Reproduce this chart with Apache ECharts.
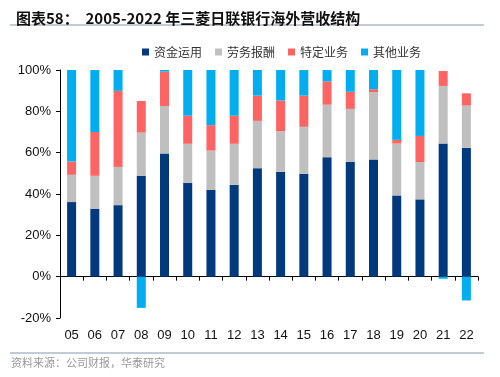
<!DOCTYPE html>
<html>
<head>
<meta charset="utf-8">
<script src="https://cdn.jsdelivr.net/npm/echarts@6/dist/echarts.min.js"></script>
<style>
  html, body { margin: 0; padding: 0; background: #fff; }
  #main { width: 500px; height: 377px; }
</style>
</head>
<body>
<div id="main"></div>
<script>
// 年份
var years = ['05','06','07','08','09','10','11','12','13','14','15','16','17','18','19','20','21','22'];
// 各业务占比 (%)
var ziJin   = [36.1, 32.9, 34.6, 48.8, 59.6, 45.4, 42.0, 44.4, 52.5, 50.7, 49.8, 57.8, 55.6, 56.7, 39.3, 37.4, 64.4, 62.3];
var laoWu   = [13.2, 15.9, 18.5, 20.9, 23.0, 18.9, 19.0, 19.9, 22.9, 19.7, 22.7, 25.4, 25.6, 32.5, 25.1, 18.0, 27.9, 20.5];
var teDing  = [6.4, 21.2, 36.8, 15.3, 16.6, 13.6, 12.3, 13.6, 12.2, 14.9, 15.1, 11.3, 8.3, 1.5, 1.8, 12.7, 7.2, 5.9];
var qiTa    = [44.3, 30.0, 10.1, -15.1, 0.8, 22.1, 26.7, 22.1, 12.4, 14.7, 12.4, 5.5, 10.5, 9.3, 33.8, 31.9, -1.0, -11.5];
var yTicks = { min: -20, max: 100, step: 20 };

var cnFont = '"Noto Sans CJK SC", sans-serif';
var numFont = '"Liberation Sans", Arial, sans-serif';

var myChart = echarts.init(document.getElementById('main'));

function bar(name, data, color) {
    return {
        name: name,
        type: 'bar',
        stack: 'all',
        barWidth: 9,
        xAxisIndex: 0,
        itemStyle: { color: color },
        data: data
    };
}

var option = {
    animation: false,
    backgroundColor: '#fff',
    title: {
        text: '图表58：  2005-2022 年三菱日联银行海外营收结构',
        left: 11,
        top: 6,
        textStyle: { fontFamily: cnFont, fontSize: 15, fontWeight: 'bold', color: '#111' }
    },
    legend: {
        top: 41,
        left: 137,
        itemWidth: 7,
        itemHeight: 7,
        itemGap: 13,
        icon: 'rect',
        textStyle: { fontFamily: cnFont, fontSize: 12, color: '#333' },
        data: ['资金运用', '劳务报酬', '特定业务', '其他业务']
    },
    graphic: [
        { type: 'line', shape: { x1: 10, y1: 25, x2: 484, y2: 25 }, style: { stroke: '#8497b0', lineWidth: 1 } },
        { type: 'line', shape: { x1: 10, y1: 353, x2: 484, y2: 353 }, style: { stroke: '#8497b0', lineWidth: 1 } },
        { type: 'text', left: 11, top: 357, style: { text: '资料来源：公司财报，华泰研究', fill: '#999', font: '11px "Noto Sans CJK SC", sans-serif' } }
    ],
    grid: { left: 60, right: 22, top: 70, bottom: 59, containLabel: false },
    xAxis: [{
        type: 'category',
        data: years,
        axisLine: { onZero: true, lineStyle: { color: '#000', width: 1 } },
        axisTick: { show: true, length: 4, lineStyle: { color: '#000' } },
        axisLabel: { show: false }
    }, {
        type: 'category',
        data: years,
        position: 'bottom',
        axisLine: { show: false, onZero: false },
        axisTick: { show: false },
        axisLabel: { margin: 11, fontFamily: numFont, fontSize: 13, color: '#111' }
    }],
    yAxis: {
        type: 'value',
        min: yTicks.min,
        max: yTicks.max,
        interval: yTicks.step,
        splitLine: { show: false },
        axisLine: { show: true, lineStyle: { color: '#000' } },
        axisTick: { show: true, length: 4, lineStyle: { color: '#000' } },
        axisLabel: { formatter: '{value}%', margin: 9, fontFamily: numFont, fontSize: 13, color: '#111' }
    },
    series: [
        bar('资金运用', ziJin, '#003a7d'),
        bar('劳务报酬', laoWu, '#bfbfbf'),
        bar('特定业务', teDing, '#ff6464'),
        bar('其他业务', qiTa, '#00adee')
    ]
};

myChart.setOption(option);
</script>
</body>
</html>
